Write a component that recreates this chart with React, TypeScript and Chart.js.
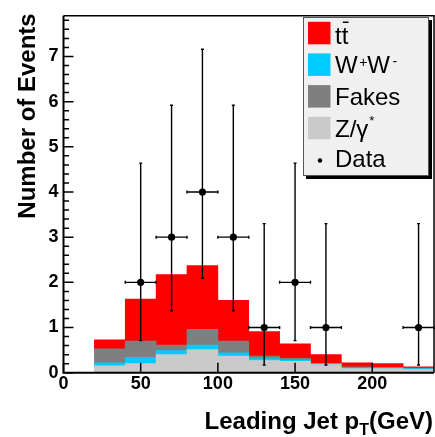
import { useEffect, useRef } from 'react';
import { Chart, registerables } from 'chart.js';

Chart.register(...registerables);

// Leading jet pT bins (GeV): centres of 20 GeV wide bins
const binCenters = [30, 50, 70, 90, 110, 130, 150, 170, 190, 210, 230];
// Stacked background contributions per bin (events)
const zGamma = [0.15, 0.2, 0.4, 0.51, 0.37, 0.27, 0.25, 0.18, 0.09, 0.09, 0.07];
const wPlusWMinus = [0.07, 0.14, 0.09, 0.1, 0.07, 0.04, 0.03, 0.02, 0.02, 0.015, 0.02];
const fakes = [0.31, 0.36, 0.12, 0.35, 0.26, 0.06, 0.04, 0.01, 0.02, 0.015, 0.01];
const ttbar = [0.2, 0.93, 1.56, 1.41, 0.9, 0.54, 0.32, 0.19, 0.09, 0.08, 0.03];

// Observed events with Poisson intervals
const dataX = [50, 70, 90, 110, 130, 150, 170, 230];
const dataY = [2, 3, 4, 3, 1, 2, 1, 1];
const dataLow = [0.71, 1.37, 2.09, 1.37, 0.17, 0.71, 0.17, 0.17];
const dataHigh = [4.64, 5.92, 7.16, 5.92, 3.3, 4.64, 3.3, 3.3];
const binHalfWidth = 10;

const xTicks = [0, 50, 100, 150, 200];
const yMajorTicks = [0, 1, 2, 3, 4, 5, 6, 7];

const FONT = '"Liberation Sans", Arial, Helvetica, sans-serif';
const W = 438;
const H = 437;

const RED = '#ff0000';
const CYAN = '#00ccff';
const DARK = '#7f7f7f';
const LIGHT = '#cacaca';

export default function App() {
  const ref = useRef<HTMLCanvasElement>(null);

  useEffect(() => {
    const canvas = ref.current!;
    const bar = (label: string, vals: number[], color: string) => ({
      type: 'bar' as const,
      label,
      data: binCenters.map((x, i) => ({ x, y: vals[i] })),
      backgroundColor: color,
      borderWidth: 0,
      barPercentage: 1,
      categoryPercentage: 1,
      stack: 'mc',
      order: 2,
    });

    const DATA_INDEX = 4;

    const errorBars = {
      id: 'errorBars',
      beforeDatasetDraw(chart: any, args: any) {
        if (args.index !== DATA_INDEX) return;
        const { ctx, scales } = chart;
        const xs = scales.x;
        const ys = scales.y;
        ctx.save();
        ctx.strokeStyle = '#000';
        ctx.lineWidth = 1.4;
        dataX.forEach((x, i) => {
          const px = xs.getPixelForValue(x);
          const py = ys.getPixelForValue(dataY[i]);
          const x0 = xs.getPixelForValue(x - binHalfWidth);
          const x1 = xs.getPixelForValue(x + binHalfWidth);
          const yLo = ys.getPixelForValue(dataLow[i]);
          const yHi = ys.getPixelForValue(dataHigh[i]);
          ctx.beginPath();
          ctx.moveTo(x0, py);
          ctx.lineTo(x1, py);
          ctx.moveTo(px, yLo);
          ctx.lineTo(px, yHi);
          // small end caps
          ctx.moveTo(px - 1.5, yLo);
          ctx.lineTo(px + 1.5, yLo);
          ctx.moveTo(px - 1.5, yHi);
          ctx.lineTo(px + 1.5, yHi);
          ctx.moveTo(x0, py - 1.5);
          ctx.lineTo(x0, py + 1.5);
          ctx.moveTo(x1, py - 1.5);
          ctx.lineTo(x1, py + 1.5);
          ctx.stroke();
        });
        ctx.restore();
      },
    };

    const frame = {
      id: 'frame',
      afterDraw(chart: any) {
        const { ctx, chartArea, scales } = chart;
        const xs = scales.x;
        const ys = scales.y;
        const { left, top, right, bottom } = chartArea;
        ctx.save();
        ctx.strokeStyle = '#000';

        // inward tick marks
        ctx.lineWidth = 1.5;
        ctx.beginPath();
        xTicks.forEach((v) => {
          const px = xs.getPixelForValue(v);
          ctx.moveTo(px, bottom);
          ctx.lineTo(px, bottom - 10);
        });
        for (let k = 0; k <= 39; k++) {
          const v = k * 0.2;
          const py = ys.getPixelForValue(v);
          const major = k % 5 === 0;
          ctx.moveTo(left, py);
          ctx.lineTo(left + (major ? 10 : 5.5), py);
        }
        ctx.stroke();

        // axes and frame
        ctx.lineWidth = 2;
        ctx.beginPath();
        ctx.moveTo(left, top);
        ctx.lineTo(left, bottom);
        ctx.lineTo(right, bottom);
        ctx.stroke();
        ctx.lineWidth = 1.5;
        ctx.beginPath();
        ctx.moveTo(left, top);
        ctx.lineTo(right, top);
        ctx.lineTo(right, bottom);
        ctx.stroke();

        // axis titles
        ctx.fillStyle = '#000';
        ctx.textBaseline = 'alphabetic';
        ctx.save();
        ctx.translate(35, 116);
        ctx.rotate(-Math.PI / 2);
        ctx.textAlign = 'center';
        ctx.font = `bold 24px ${FONT}`;
        ctx.fillText('Number of Events', 0, 0);
        ctx.restore();

        const base = 429;
        ctx.textAlign = 'left';
        ctx.font = `bold 24px ${FONT}`;
        const p1 = 'Leading Jet p';
        const p3 = '(GeV)';
        const w1 = ctx.measureText(p1).width;
        const w3 = ctx.measureText(p3).width;
        ctx.font = `bold 16px ${FONT}`;
        const w2 = ctx.measureText('T').width;
        const x0 = 433 - (w1 + w2 + w3);
        ctx.font = `bold 24px ${FONT}`;
        ctx.fillText(p1, x0, base);
        ctx.fillText(p3, x0 + w1 + w2, base);
        ctx.font = `bold 16px ${FONT}`;
        ctx.fillText('T', x0 + w1, base + 6);

        // legend
        const lx = 303;
        const ly = 17;
        const lw = 126;
        const lh = 159;
        ctx.fillStyle = '#000';
        ctx.fillRect(lx + 3, ly + 3, lw, lh);
        ctx.fillStyle = '#f0f0f0';
        ctx.fillRect(lx, ly, lw, lh);
        ctx.lineWidth = 1;
        ctx.strokeStyle = '#555';
        ctx.strokeRect(lx + 0.5, ly + 0.5, lw - 1, lh - 1);

        const swX = 308;
        const sw = 22.5;
        const rowTops = [21.8, 53.4, 85.1, 116.8];
        const swColors = [RED, CYAN, DARK, LIGHT];
        rowTops.forEach((t, i) => {
          ctx.fillStyle = swColors[i];
          ctx.fillRect(swX, t, sw, sw);
        });

        const tx = 335;
        ctx.fillStyle = '#000';
        ctx.font = `24px ${FONT}`;
        // t t-bar
        ctx.fillText('tt', tx, 44);
        const tW = ctx.measureText('t').width;
        ctx.fillRect(tx + tW + 1.2, 21.5, tW - 1, 1.5);
        // W+W-
        ctx.font = `24px ${FONT}`;
        ctx.fillText('W', tx, 72.7);
        const wW = ctx.measureText('W').width;
        ctx.font = `14px ${FONT}`;
        ctx.fillText('+', tx + wW + 1.5, 66.5);
        const plusW = ctx.measureText('+').width;
        ctx.font = `24px ${FONT}`;
        ctx.fillText('W', tx + wW + plusW + 1.5, 72.7);
        ctx.font = `14px ${FONT}`;
        ctx.fillText('-', tx + 2 * wW + plusW + 4, 66);
        // Fakes
        ctx.font = `24px ${FONT}`;
        ctx.fillText('Fakes', tx, 105);
        // Z/gamma*
        ctx.fillText('Z/\u03b3', tx, 137.3);
        const zW = ctx.measureText('Z/\u03b3').width;
        ctx.font = `13px ${FONT}`;
        ctx.fillText('*', tx + zW + 1, 125);
        // Data
        ctx.font = `24px ${FONT}`;
        ctx.fillText('Data', tx, 166.7);
        ctx.beginPath();
        ctx.arc(320, 160.5, 2.2, 0, Math.PI * 2);
        ctx.fill();

        ctx.restore();
      },
    };

    const chart = new Chart(canvas, {
      type: 'bar',
      data: {
        datasets: [
          bar('Z/\u03b3*', zGamma, LIGHT),
          bar('W+W-', wPlusWMinus, CYAN),
          bar('Fakes', fakes, DARK),
          bar('tt\u0304', ttbar, RED),
          {
            type: 'scatter' as const,
            label: 'Data',
            data: dataX.map((x, i) => ({ x, y: dataY[i] })),
            backgroundColor: '#000',
            borderColor: '#000',
            pointRadius: 3.6,
            pointBorderWidth: 0,
            stack: 'data',
            order: 1,
          } as any,
        ],
      },
      options: {
        animation: false,
        responsive: false,
        devicePixelRatio: 1,
        layout: { padding: { top: 11, right: W - 436.2, left: 0, bottom: 0 } },
        plugins: {
          legend: { display: false },
          tooltip: { enabled: false },
        },
        scales: {
          x: {
            type: 'linear',
            stacked: true,
            offset: false,
            min: 0,
            max: 240,
            grid: { display: false, drawTicks: false, offset: false },
            border: { display: false },
            ticks: {
              stepSize: 50,
              includeBounds: false,
              padding: 1,
              color: '#000',
              font: { family: FONT, size: 18, weight: 'bold' },
              maxRotation: 0,
            },
            afterFit: (s: any) => {
              s.height = H - 372.7;
            },
          },
          y: {
            type: 'linear',
            stacked: true,
            min: 0,
            max: 7.9,
            grid: { display: false, drawTicks: false },
            border: { display: false },
            ticks: {
              stepSize: 1,
              includeBounds: false,
              padding: 5,
              color: '#000',
              font: { family: FONT, size: 18, weight: 'bold' },
            },
            afterFit: (s: any) => {
              s.width = 63.5;
            },
          },
        },
      } as any,
      plugins: [errorBars, frame],
    });

    return () => chart.destroy();
  }, []);

  return (
    <div
      style={{
        position: 'absolute',
        left: 0,
        top: 0,
        width: 435,
        height: H,
        overflow: 'hidden',
        background: '#fff',
      }}
    >
      <canvas ref={ref} width={W} height={H} style={{ display: 'block', width: W, height: H }} />
    </div>
  );
}
